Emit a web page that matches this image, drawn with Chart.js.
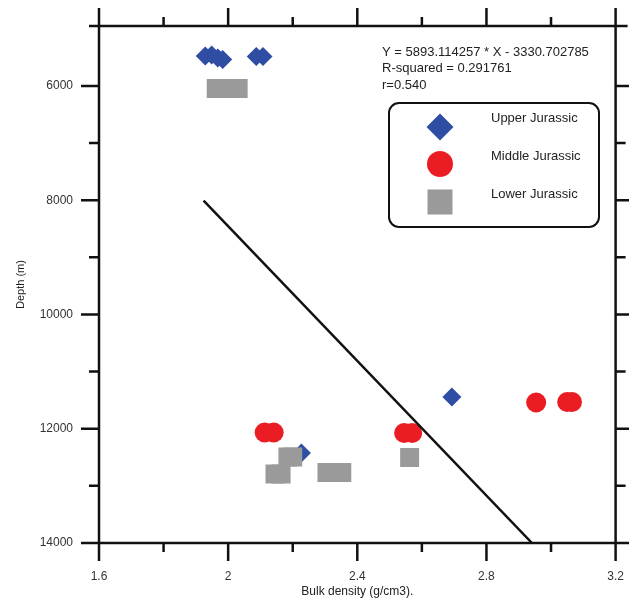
<!DOCTYPE html>
<html>
<head>
<meta charset="utf-8">
<script src="https://cdn.jsdelivr.net/npm/chart.js@4.4.0/dist/chart.umd.min.js"></script>
<style>
  html, body { margin: 0; padding: 0; background: #fff; }
</style>
</head>
<body>
<canvas id="chart" width="629" height="605"></canvas>
<script>
// Upper Jurassic (blue diamonds)
const upperX = [1.929, 1.949, 1.968, 1.983, 2.087, 2.108, 2.693, 2.227];
const upperY = [5475, 5457, 5510, 5536, 5484, 5484, 11445, 12425];

// Middle Jurassic (red circles)
const middleX = [2.113, 2.141, 2.545, 2.570, 2.954, 3.050, 3.065];
const middleY = [12066, 12066, 12075, 12075, 11541, 11532, 11532];

// Lower Jurassic (grey squares)
const lowerX = [1.963, 1.995, 2.031, 2.145, 2.164, 2.185, 2.200, 2.306, 2.352, 2.562];
const lowerY = [6044, 6044, 6044, 12793, 12793, 12495, 12495, 12766, 12766, 12504];

// regression line end points
const fitX = [1.924, 2.941];
const fitY = [8008, 14000];

// tick positions (labels on every other one)
const xTicks = [1.6, 1.8, 2.0, 2.2, 2.4, 2.6, 2.8, 3.0, 3.2];
const yTicks = [5000, 6000, 7000, 8000, 9000, 10000, 11000, 12000, 13000, 14000];

const eqLines = ['Y = 5893.114257 * X - 3330.702785', 'R-squared = 0.291761', 'r=0.540'];
const seriesNames = ['Upper Jurassic', 'Middle Jurassic', 'Lower Jurassic'];

const BLUE = '#2f4ea3';
const RED = '#ea1c24';
const GREY = '#9a9a9a';
const INK = '#111';

function pairs(xs, ys) {
    return xs.map((x, i) => ({ x: x, y: ys[i] }));
}

// axis frame with outward ticks (long major, short minor)
const framePlugin = {
    id: 'frame',
    afterDatasetsDraw(chart) {
        const ctx = chart.ctx;
        const ca = chart.chartArea;
        const xs = chart.scales.x;
        const ys = chart.scales.y;
        ctx.save();
        ctx.strokeStyle = INK;
        ctx.lineWidth = 2.5;
        ctx.lineCap = 'butt';
        ctx.beginPath();
        ctx.moveTo(ca.left - 10, ca.top); ctx.lineTo(ca.right + 12, ca.top);
        ctx.moveTo(ca.left - 18, ca.bottom); ctx.lineTo(ca.right + 12, ca.bottom);
        ctx.moveTo(ca.left, ca.top - 18); ctx.lineTo(ca.left, ca.bottom + 18);
        ctx.moveTo(ca.right, ca.top - 18); ctx.lineTo(ca.right, ca.bottom + 18);
        xs.ticks.forEach(t => {
            const px = xs.getPixelForValue(t.value);
            const len = Math.round(t.value * 10) % 4 === 0 ? 18 : 9;
            ctx.moveTo(px, ca.bottom); ctx.lineTo(px, ca.bottom + len);
            ctx.moveTo(px, ca.top); ctx.lineTo(px, ca.top - len);
        });
        ys.ticks.forEach(t => {
            const py = ys.getPixelForValue(t.value);
            if (py - ca.top < 5) return;
            const len = t.value % 2000 === 0 ? 18 : 10;
            ctx.moveTo(ca.left, py); ctx.lineTo(ca.left - len, py);
            ctx.moveTo(ca.right, py); ctx.lineTo(ca.right + len, py);
        });
        ctx.stroke();
        ctx.restore();
    }
};

// regression text and boxed legend
const notesPlugin = {
    id: 'notes',
    afterDraw(chart) {
        const ctx = chart.ctx;
        ctx.save();
        ctx.fillStyle = '#222';
        ctx.font = '13px "Liberation Sans", Arial, sans-serif';
        ctx.textBaseline = 'middle';
        ctx.textAlign = 'left';
        eqLines.forEach((s, i) => ctx.fillText(s, 382, 52 + i * 16.5));

        // legend box
        const bx = 389, by = 103, bw = 210, bh = 124, r = 10;
        ctx.beginPath();
        ctx.moveTo(bx + r, by);
        ctx.arcTo(bx + bw, by, bx + bw, by + bh, r);
        ctx.arcTo(bx + bw, by + bh, bx, by + bh, r);
        ctx.arcTo(bx, by + bh, bx, by, r);
        ctx.arcTo(bx, by, bx + bw, by, r);
        ctx.closePath();
        ctx.fillStyle = '#fff';
        ctx.fill();
        ctx.lineWidth = 2;
        ctx.strokeStyle = INK;
        ctx.stroke();

        const mx = 440;
        // diamond
        ctx.fillStyle = BLUE;
        ctx.beginPath();
        ctx.moveTo(mx - 13.5, 127); ctx.lineTo(mx, 113.5); ctx.lineTo(mx + 13.5, 127); ctx.lineTo(mx, 140.5);
        ctx.closePath(); ctx.fill();
        // circle
        ctx.fillStyle = RED;
        ctx.beginPath(); ctx.arc(mx, 164, 13, 0, Math.PI * 2); ctx.fill();
        // square
        ctx.fillStyle = GREY;
        ctx.fillRect(mx - 12.5, 189.5, 25, 25);

        ctx.fillStyle = '#222';
        seriesNames.forEach((s, i) => ctx.fillText(s, 491, 118 + i * 38));
        ctx.restore();
    }
};

const tickFont = { family: '"Liberation Sans", Arial, sans-serif', size: 12 };
// invisible tick marks only push the labels away from the frame
const hiddenGrid = { display: true, drawOnChartArea: false, drawTicks: true, tickLength: 25, tickColor: 'rgba(0,0,0,0)' };

new Chart(document.getElementById('chart'), {
    type: 'scatter',
    data: {
        datasets: [
            {
                type: 'line',
                label: 'fit',
                data: pairs(fitX, fitY),
                borderColor: INK,
                borderWidth: 2.5,
                pointRadius: 0,
                fill: false,
                order: -1
            },
            {
                label: seriesNames[2],
                data: pairs(lowerX, lowerY),
                pointStyle: 'rect',
                pointRadius: 13.4,
                backgroundColor: GREY,
                borderWidth: 0,
                order: 0
            },
            {
                label: seriesNames[1],
                data: pairs(middleX, middleY),
                pointStyle: 'circle',
                pointRadius: 10,
                backgroundColor: RED,
                borderWidth: 0,
                order: 1
            },
            {
                label: seriesNames[0],
                data: pairs(upperX, upperY),
                pointStyle: 'rectRot',
                pointRadius: 9.5,
                backgroundColor: BLUE,
                borderWidth: 0,
                order: 2
            }
        ]
    },
    options: {
        responsive: false,
        animation: false,
        layout: { padding: { top: 26, right: 12, left: 0, bottom: 0 } },
        plugins: {
            legend: { display: false },
            tooltip: { enabled: false }
        },
        scales: {
            x: {
                type: 'linear',
                position: 'bottom',
                min: 1.6,
                max: 3.2,
                grid: hiddenGrid,
                border: { display: false },
                afterBuildTicks: s => { s.ticks = xTicks.map(v => ({ value: v })); },
                ticks: {
                    autoSkip: false,
                    maxRotation: 0,
                    padding: 1,
                    color: '#333',
                    font: tickFont,
                    callback: v => (Math.round(v * 10) % 4 === 0 ? String(Number(v.toFixed(1))) : '')
                },
                title: {
                    display: true,
                    text: 'Bulk density (g/cm3).',
                    color: '#222',
                    font: { family: '"Liberation Sans", Arial, sans-serif', size: 12 },
                    padding: { top: 0, bottom: 6 }
                },
                afterFit: s => { s.height = 62; }
            },
            y: {
                type: 'linear',
                position: 'left',
                reverse: true,
                min: 4950,
                max: 14000,
                grid: hiddenGrid,
                border: { display: false },
                afterBuildTicks: s => { s.ticks = yTicks.map(v => ({ value: v })); },
                ticks: {
                    autoSkip: false,
                    padding: 1,
                    color: '#333',
                    font: tickFont,
                    callback: v => (v % 2000 === 0 ? String(v) : '')
                },
                title: {
                    display: true,
                    text: 'Depth (m)',
                    color: '#222',
                    font: { family: '"Liberation Sans", Arial, sans-serif', size: 11 },
                    padding: { top: 14, bottom: 0 }
                },
                afterFit: s => { s.width = 99; }
            }
        }
    },
    plugins: [framePlugin, notesPlugin]
});
</script>
</body>
</html>
